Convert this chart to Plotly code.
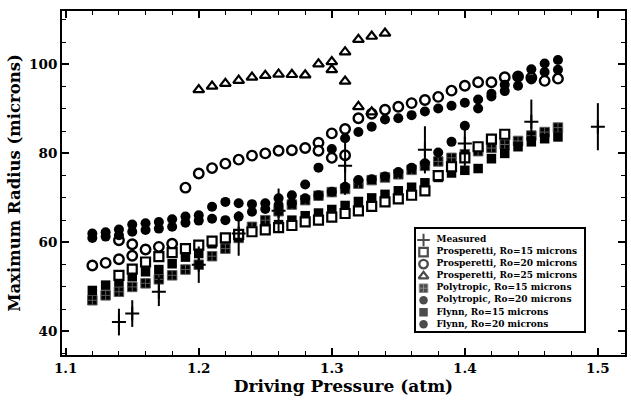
import plotly.graph_objects as go

# ---------------- data ----------------
P = [1.12, 1.13, 1.14, 1.15, 1.16, 1.17, 1.18, 1.19, 1.20, 1.21, 1.22, 1.23,
     1.24, 1.25, 1.26, 1.27, 1.28, 1.29, 1.30, 1.31, 1.32, 1.33, 1.34, 1.35,
     1.36, 1.37, 1.38, 1.39, 1.40, 1.41, 1.42, 1.43, 1.44, 1.45, 1.46, 1.47]

poly15 = [47.0, 48.1, 48.9, 50.0, 50.8, 51.7, 52.6, 53.9, 55.0, 56.9, 58.6, 61.0,
          63.5, 65.0, 67.0, 68.5, 69.5, 70.5, 71.3, 72.0, 73.2, 74.0, 74.6, 75.3,
          76.3, 77.2, 78.2, 79.0, 79.8, 80.5, 81.2, 82.0, 82.8, 84.0, 84.8, 85.8]

flynn15 = [49.2, 50.4, 51.1, 52.3, 53.4, 53.9, 55.2, 56.7, 57.5, 59.7, 60.8, 61.3,
           62.4, 63.2, 64.0, 65.0, 66.0, 66.6, 67.4, 68.3, 69.2, 70.0, 70.8, 71.6,
           72.4, 73.4, 74.6, 75.6, 76.2, 76.6, 78.8, 80.0, 81.5, 82.6, 83.3, 83.7]

poly20 = [61.0, 61.3, 61.6, 62.4, 62.8, 63.1, 63.5, 64.4, 64.9, 65.3, 65.0, 65.8,
          66.9, 67.5, 68.4, 68.8, 69.9, 70.6, 71.4, 72.5, 74.0, 74.2, 74.8, 75.8,
          76.8, 77.8, 80.2, 82.6, 86.2, 90.1, 92.8, 94.0, 95.2, 96.6, 98.3, 98.8]

flynn20 = [62.0, 62.3, 62.9, 64.0, 64.3, 64.6, 65.2, 65.8, 66.1, 68.0, 69.1, 68.8,
           68.6, 68.8, 69.9, 70.6, 73.0, 76.8, 81.0, 83.4, 84.8, 86.0, 87.6, 87.9,
           88.6, 89.4, 90.1, 90.7, 91.4, 92.1, 93.4, 95.4, 97.3, 98.9, 100.2, 101.0]

pr15_p = [1.14, 1.15, 1.16, 1.17, 1.18, 1.19, 1.20, 1.21, 1.22, 1.23, 1.24, 1.25,
          1.26, 1.27, 1.28, 1.29, 1.30, 1.31, 1.32, 1.33, 1.34, 1.35, 1.36, 1.37,
          1.38, 1.39, 1.40, 1.41, 1.42, 1.43]
pr15_r = [52.6, 54.0, 55.6, 56.8, 57.7, 58.6, 59.4, 60.3, 61.0, 61.8, 62.4, 62.8,
          63.3, 63.8, 64.6, 65.0, 65.7, 66.5, 67.1, 68.1, 69.1, 69.8, 70.6, 71.6,
          75.0, 77.0, 79.0, 81.5, 83.2, 84.3]

pr20_p = [1.12, 1.13, 1.14, 1.14, 1.15, 1.15, 1.16, 1.17, 1.18, 1.19, 1.20, 1.21,
          1.22, 1.23, 1.24, 1.25, 1.26, 1.27, 1.28, 1.29, 1.29, 1.30, 1.30, 1.31,
          1.31, 1.32, 1.33, 1.34, 1.35, 1.36, 1.37, 1.38, 1.39, 1.40, 1.41, 1.42,
          1.43, 1.44, 1.45, 1.46, 1.47]
pr20_r = [54.8, 55.4, 56.2, 60.5, 57.0, 59.6, 58.4, 59.0, 59.7, 72.3, 75.5, 76.7,
          77.7, 78.6, 79.5, 80.0, 80.6, 80.7, 81.2, 82.4, 80.6, 84.5, 79.0, 85.5,
          79.6, 87.9, 88.9, 89.8, 90.5, 91.3, 92.0, 92.7, 94.1, 95.2, 96.0, 96.0,
          97.1, 97.3, 97.0, 96.3, 96.8]

pr25_p = [1.20, 1.21, 1.22, 1.23, 1.24, 1.25, 1.26, 1.27, 1.28, 1.29, 1.30, 1.30,
          1.31, 1.31, 1.32, 1.33, 1.34, 1.32, 1.33]
pr25_r = [94.3, 95.1, 95.7, 96.4, 97.1, 97.5, 97.8, 97.7, 97.6, 100.1, 100.6, 98.8,
          102.8, 96.2, 105.6, 106.3, 107.0, 90.5, 89.3]

meas_p = [1.14, 1.15, 1.17, 1.20, 1.23, 1.26, 1.31, 1.37, 1.40, 1.45, 1.50]
meas_r = [42.1, 44.0, 48.9, 55.0, 62.0, 67.1, 77.2, 80.8, 82.2, 87.1, 86.0]
meas_err = [3.0, 3.0, 3.2, 4.1, 5.0, 5.0, 6.5, 5.3, 5.0, 5.0, 5.3]

legend_labels = ["Measured",
                 "Prosperetti, Ro=15 microns",
                 "Prosperetti, Ro=20 microns",
                 "Prosperetti, Ro=25 microns",
                 "Polytropic, Ro=15 microns",
                 "Polytropic, Ro=20 microns",
                 "Flynn, Ro=15 microns",
                 "Flynn, Ro=20 microns"]

# ---------------- styles ----------------
FONT = "DejaVu Serif"
BLK = "black"

sty = {
    "Measured": dict(symbol="cross-thin", size=10, color=BLK, line=dict(color=BLK, width=2)),
    "Prosperetti, Ro=15 microns": dict(symbol="square", size=9, color="white", line=dict(color=BLK, width=2.2)),
    "Prosperetti, Ro=20 microns": dict(symbol="circle", size=9.5, color="white", line=dict(color=BLK, width=2.4)),
    "Prosperetti, Ro=25 microns": dict(symbol="triangle-up", size=9.5, color="white", line=dict(color=BLK, width=2.2)),
    "Polytropic, Ro=15 microns": dict(symbol="square-cross", size=9.5, color=BLK, line=dict(color="#5a5a5a", width=1)),
    "Polytropic, Ro=20 microns": dict(symbol="circle", size=10, color=BLK, line=dict(color=BLK, width=0)),
    "Flynn, Ro=15 microns": dict(symbol="square", size=9.5, color=BLK, line=dict(color=BLK, width=0)),
    "Flynn, Ro=20 microns": dict(symbol="circle", size=10, color=BLK, line=dict(color=BLK, width=0)),
}

fig = go.Figure()

def add(px, ry, name, **kw):
    fig.add_trace(go.Scatter(x=px, y=ry, mode="markers", name=name,
                             marker=sty[name], showlegend=False, **kw))

add(P, poly15, "Polytropic, Ro=15 microns")
add(P, flynn15, "Flynn, Ro=15 microns")
add(pr20_p, pr20_r, "Prosperetti, Ro=20 microns")
add(P, poly20, "Polytropic, Ro=20 microns")
add(P, flynn20, "Flynn, Ro=20 microns")
add(pr15_p, pr15_r, "Prosperetti, Ro=15 microns")
add(pr25_p, pr25_r, "Prosperetti, Ro=25 microns")
add(meas_p, meas_r, "Measured",
    error_y=dict(type="data", array=meas_err, visible=True, color=BLK, thickness=2, width=0))

# ---------------- custom legend (inset axes) ----------------
fig.add_trace(go.Scatter(
    x=[8] * len(legend_labels), y=legend_labels, mode="markers",
    xaxis="x2", yaxis="y2", showlegend=False, cliponaxis=False,
    marker=dict(symbol=[sty[k]["symbol"] for k in legend_labels],
                size=[8.5 if k != "Measured" else 9 for k in legend_labels],
                color=[sty[k]["color"] for k in legend_labels],
                line=dict(color=[sty[k]["line"]["color"] for k in legend_labels],
                          width=[sty[k]["line"]["width"] for k in legend_labels]))))
fig.add_trace(go.Scatter(
    x=[21] * len(legend_labels), y=legend_labels, mode="text", text=legend_labels,
    textposition="middle right", xaxis="x2", yaxis="y2", showlegend=False,
    cliponaxis=False,
    textfont=dict(family=FONT, size=9, color=BLK, weight="bold")))

axis_common = dict(showline=True, linewidth=2, linecolor=BLK, mirror="allticks",
                   ticks="inside", tickwidth=1.5, ticklen=7, tickcolor=BLK,
                   showgrid=False, zeroline=False,
                   tickfont=dict(family=FONT, size=13.5, color=BLK, weight="bold"))

fig.update_layout(
    width=631, height=402,
    margin=dict(l=62, r=4, t=11, b=47),
    paper_bgcolor="white", plot_bgcolor="white",
    showlegend=False,
    font=dict(family=FONT, color=BLK),
    xaxis=dict(range=[1.0972, 1.5204], tick0=1.1, dtick=0.1,
               minor=dict(dtick=0.02, ticks="inside", ticklen=4, tickwidth=1.2, tickcolor=BLK),
               title=dict(text="Driving Pressure (atm)", standoff=4,
                          font=dict(family=FONT, size=17, color=BLK, weight="bold")),
               **axis_common),
    yaxis=dict(range=[34.7, 112.0], tick0=0, dtick=20,
               minor=dict(dtick=5, ticks="inside", ticklen=4, tickwidth=1.2, tickcolor=BLK),
               title=dict(text="Maximum Radius (microns)", standoff=4,
                          font=dict(family=FONT, size=16.5, color=BLK, weight="bold")),
               **axis_common),
    xaxis2=dict(domain=[0.628, 0.927], anchor="y2", range=[0, 169],
                showline=True, linewidth=2, linecolor=BLK, mirror=True,
                showticklabels=False, ticks="", showgrid=False, zeroline=False),
    yaxis2=dict(domain=[0.070, 0.366], anchor="x2", type="category",
                categoryorder="array", categoryarray=legend_labels,
                range=[7.55, -0.91],
                showline=True, linewidth=2, linecolor=BLK, mirror=True,
                showticklabels=False, ticks="", showgrid=False, zeroline=False),
)

fig.write_html("out.html")
